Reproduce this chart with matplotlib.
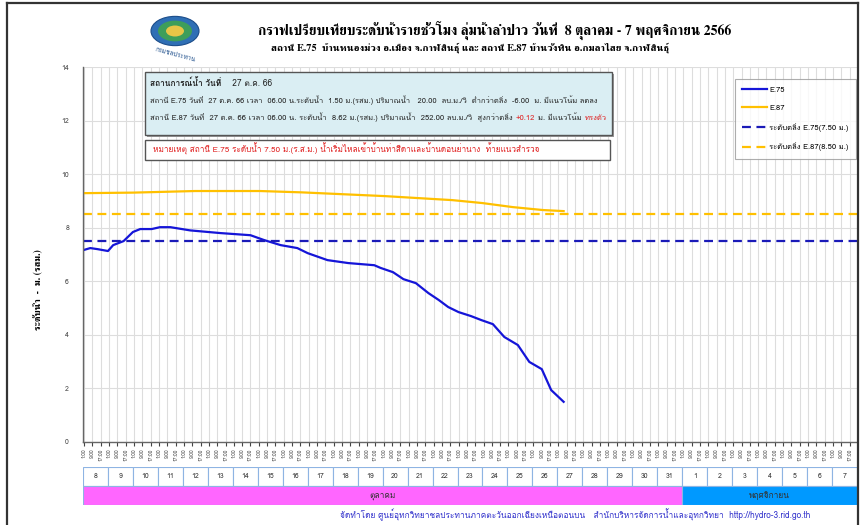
import matplotlib
matplotlib.use("Agg")
import matplotlib.pyplot as plt
from matplotlib import font_manager
from matplotlib.patches import Rectangle, Circle
from matplotlib.lines import Line2D
import pandas as pd

# ---- data -------------------------------------------------------------
START = pd.Timestamp("2023-10-08 00:00")
N_DAYS = 31

e75_time = [
    "10-08 00:00", "10-08 07:00", "10-08 14:00", "10-09 00:00", "10-09 05:00",
    "10-09 15:00", "10-10 00:00", "10-10 07:00", "10-10 18:00", "10-11 02:00",
    "10-11 12:00", "10-12 07:00", "10-13 12:00", "10-14 17:00", "10-15 06:00",
    "10-15 22:00", "10-16 14:00", "10-17 00:00", "10-17 19:00", "10-18 15:00",
    "10-19 16:00", "10-19 22:00", "10-20 10:00", "10-20 20:00", "10-21 08:00",
    "10-21 20:00", "10-22 06:00", "10-22 15:00", "10-23 01:00", "10-23 13:00",
    "10-23 23:00", "10-24 10:00", "10-24 21:00", "10-25 10:00", "10-25 21:00",
    "10-26 09:00", "10-26 18:00", "10-27 06:00",
]
e75_level = [
    7.16, 7.24, 7.20, 7.13, 7.35, 7.50, 7.84, 7.95, 7.95, 8.02,
    8.02, 7.90, 7.80, 7.72, 7.54, 7.35, 7.24, 7.05, 6.79, 6.68,
    6.60, 6.50, 6.34, 6.08, 5.93, 5.56, 5.30, 5.04, 4.85, 4.70,
    4.55, 4.40, 3.92, 3.62, 2.99, 2.72, 1.94, 1.50,
]

e87_time = [
    "10-08 00:00", "10-10 00:00", "10-12 12:00", "10-15 02:00", "10-16 18:00",
    "10-18 10:00", "10-20 02:00", "10-22 19:00", "10-24 00:00", "10-25 05:00",
    "10-26 10:00", "10-27 06:00",
]
e87_level = [9.29, 9.31, 9.37, 9.37, 9.32, 9.25, 9.18, 9.03, 8.92, 8.77, 8.66, 8.62]

bank_e75 = 7.50
bank_e87 = 8.50

tick_hours = ["1:00", "9:00", "17:00"]
day_labels = [8, 9, 10, 11, 12, 13, 14, 15, 16, 17, 18, 19, 20, 21, 22, 23, 24,
              25, 26, 27, 28, 29, 30, 31, 1, 2, 3, 4, 5, 6, 7]
months = ["ตุลาคม", "พฤศจิกายน"]
month_days = [24, 7]
month_colors = ["#FF66FF", "#0099FF"]


def to_hours(labels):
    ts = pd.to_datetime(["2023-" + s for s in labels])
    return (ts - START) / pd.Timedelta(hours=1)


# ---- fonts --------------------------------------------------------------
installed = {f.name for f in font_manager.fontManager.ttflist}


def pick(*names):
    fams = [n for n in names if n in installed]
    return fams + ["DejaVu Sans"]


SANS = pick("Loma", "Tahoma", "Garuda", "Sarabun")
SERIF = pick("Norasi", "FreeSerif", "Laksaman", "Loma")
plt.rcParams["font.family"] = SANS

W, H = 861, 525


def fx(x):
    return x / W


def fy(y):
    return 1 - y / H


fig = plt.figure(figsize=(W / 100, H / 100), dpi=100)

# frame around the sheet
for xs, ys in [((7, 858), (3, 3)), ((7, 7), (3, 525)), ((858, 858), (3, 525))]:
    fig.add_artist(Line2D([fx(xs[0]), fx(xs[1])], [fy(ys[0]), fy(ys[1])],
                          color="#333333", lw=1.6, transform=fig.transFigure))

# emblem
fig.add_artist(Circle((fx(175), fy(31)), 24 / W, transform=fig.transFigure,
                      facecolor="#2F6FB5", edgecolor="#1C4D8A", lw=0.8))
fig.add_artist(Circle((fx(175), fy(31)), 17 / W, transform=fig.transFigure,
                      facecolor="#3E9E5A", edgecolor="none"))
fig.add_artist(Circle((fx(175), fy(31)), 9 / W, transform=fig.transFigure,
                      facecolor="#E8C547", edgecolor="none"))
fig.text(fx(175), fy(55), "กรมชลประทาน", fontsize=4.5, color="#1C4D8A",
         ha="center", va="center", rotation=-15, family=SANS)

# titles
fig.text(fx(495), fy(30), "กราฟเปรียบเทียบระดับน้ำรายชั่วโมง ลุ่มน้ำลำปาว วันที่  8 ตุลาคม - 7 พฤศจิกายน 2566",
         fontsize=10, weight="bold", ha="center", va="center", family=SERIF)
fig.text(fx(470), fy(48), "สถานี E.75  บ้านหนองม่วง อ.เมือง จ.กาฬสินธุ์ และ สถานี E.87 บ้านวังทิน อ.กมลาไสย จ.กาฬสินธุ์",
         fontsize=7.5, weight="bold", ha="center", va="center", family=SERIF)

# ---- main axes ----------------------------------------------------------
left, right, top, bottom = 83, 857, 67, 442
ax = fig.add_axes([fx(left), fy(bottom), fx(right - left), (bottom - top) / H])

ax.plot(to_hours(e75_time), e75_level, color="#1515D8", lw=1.6, label="E.75")
ax.plot(to_hours(e87_time), e87_level, color="#FFC000", lw=1.6, label="E.87")
ax.axhline(bank_e75, color="#1A1AB8", lw=1.6, ls=(0, (4, 2.5)),
           label="ระดับตลิ่ง E.75(7.50 ม.)")
ax.axhline(bank_e87, color="#FFC000", lw=1.6, ls=(0, (4, 2.5)),
           label="ระดับตลิ่ง E.87(8.50 ม.)")

ax.set_xlim(0, N_DAYS * 24)
ax.set_ylim(0, 14)
ax.set_yticks(range(0, 15, 2))
xt = [d * 24 + h for d in range(N_DAYS) for h in (1, 9, 17)]
ax.set_xticks(xt)
ax.set_xticklabels(tick_hours * N_DAYS, rotation=90, fontsize=3.6)
ax.tick_params(axis="x", length=3, pad=1.5, colors="#444444")
ax.tick_params(axis="y", length=0, pad=10, labelsize=5, colors="#444444")
ax.grid(True, color="#DDDDDD", lw=0.8)
ax.set_axisbelow(True)
for s in ("top", "right"):
    ax.spines[s].set_visible(False)
for s in ("left", "bottom"):
    ax.spines[s].set_color("#666666")
    ax.spines[s].set_linewidth(1.0)

fig.text(fx(38), fy(290), "ระดับน้ำ  -  ม. (รสม.)", rotation=90, fontsize=7,
         weight="bold", ha="center", va="center", family=SERIF)

leg = ax.legend(loc="upper left", bbox_to_anchor=(fx(731), fy(75)),
                bbox_transform=fig.transFigure, fontsize=5.5, frameon=True,
                fancybox=False, edgecolor="#999999", handlelength=3.2,
                labelspacing=1.4, borderpad=1.0, handletextpad=0.3)
leg.get_frame().set_linewidth(0.8)

# ---- day / month strip ------------------------------------------------
ax2 = fig.add_axes([fx(left), fy(505), fx(right - left), (505 - 467) / H])
ax2.set_xlim(0, N_DAYS * 24)
ax2.set_ylim(0, 2)
ax2.axis("off")
for i, d in enumerate(day_labels):
    ax2.add_patch(Rectangle((i * 24, 1), 24, 1, facecolor="white",
                            edgecolor="#8EB4E3", lw=0.8))
    ax2.text(i * 24 + 12, 1.5, str(d), fontsize=5, ha="center", va="center",
             color="#333333")
x0 = 0
for name, nd, col in zip(months, month_days, month_colors):
    ax2.add_patch(Rectangle((x0, 0), nd * 24, 1, facecolor=col,
                            edgecolor="#8EB4E3", lw=0.8))
    ax2.text(x0 + nd * 12, 0.5, name, fontsize=6, ha="center", va="center",
             color="#333333")
    x0 += nd * 24

fig.text(fx(575), fy(515),
         "จัดทำโดย ศูนย์อุทกวิทยาชลประทานภาคตะวันออกเฉียงเหนือตอนบน   สำนักบริหารจัดการน้ำและอุทกวิทยา  http://hydro-3.rid.go.th",
         fontsize=6, color="#3333CC", ha="center", va="center")

# ---- info boxes -------------------------------------------------------
fig.add_artist(Rectangle((fx(147), fy(137)), fx(467), 63 / H, transform=fig.transFigure,
                         facecolor="#999999", edgecolor="none"))
fig.add_artist(Rectangle((fx(145), fy(135)), fx(467), 63 / H, transform=fig.transFigure,
                         facecolor="#DAEEF3", edgecolor="#555555", lw=1.0))
fig.add_artist(Rectangle((fx(145), fy(160)), fx(465), 20 / H, transform=fig.transFigure,
                         facecolor="white", edgecolor="#555555", lw=1.0))

renderer = fig.canvas.get_renderer()
GAP = 3


def runs(x, y, parts, size, width=None, family=SANS):
    """Draw coloured text pieces side by side on one baseline; optionally fit a width."""
    if width is not None:
        total = 0
        for text, color, weight in parts:
            t = fig.text(0, 0, text, fontsize=size, weight=weight, family=family)
            total += t.get_window_extent(renderer).width + GAP
            t.remove()
        size = size * width / (total - GAP)
    x = fx(x)
    for text, color, weight in parts:
        t = fig.text(x, fy(y), text, fontsize=size, color=color, weight=weight,
                     va="baseline", ha="left", family=family)
        x += (t.get_window_extent(renderer).width + GAP) / W


runs(150, 86, [("สถานการณ์น้ำ วันที่", "#222222", "bold"),
               ("   27 ต.ค. 66", "#222222", "normal")], size=6)
runs(150, 103, [("สถานี E.75 วันที่  27 ต.ค. 66 เวลา  06.00 น.ระดับน้ำ  1.50 ม.(รสม.) ปริมาณน้ำ   20.00  ลบ.ม./วิ  ต่ำกว่าตลิ่ง  -6.00  ม. มีแนวโน้ม ลดลง",
                 "#222222", "normal")], size=6, width=448)
runs(150, 120, [("สถานี E.87 วันที่  27 ต.ค. 66 เวลา 06.00 น. ระดับน้ำ  8.62 ม.(รสม.) ปริมาณน้ำ  252.00 ลบ.ม./วิ  สูงกว่าตลิ่ง",
                 "#222222", "normal"),
                ("+0.12", "#E02020", "normal"),
                ("ม. มีแนวโน้ม", "#222222", "normal"),
                ("ทรงตัว", "#E02020", "normal")], size=6, width=455)
runs(153, 153, [("หมายเหตุ สถานี E.75 ระดับน้ำ 7.50 ม.(ร.ส.ม.) น้ำเริ่มไหลเข้าบ้านท่าสีดาและบ้านดอนย่านาง  ท้ายแนวสำรวจ",
                 "#E02020", "normal")], size=6, width=390)

fig.savefig("out.png", dpi=100)
